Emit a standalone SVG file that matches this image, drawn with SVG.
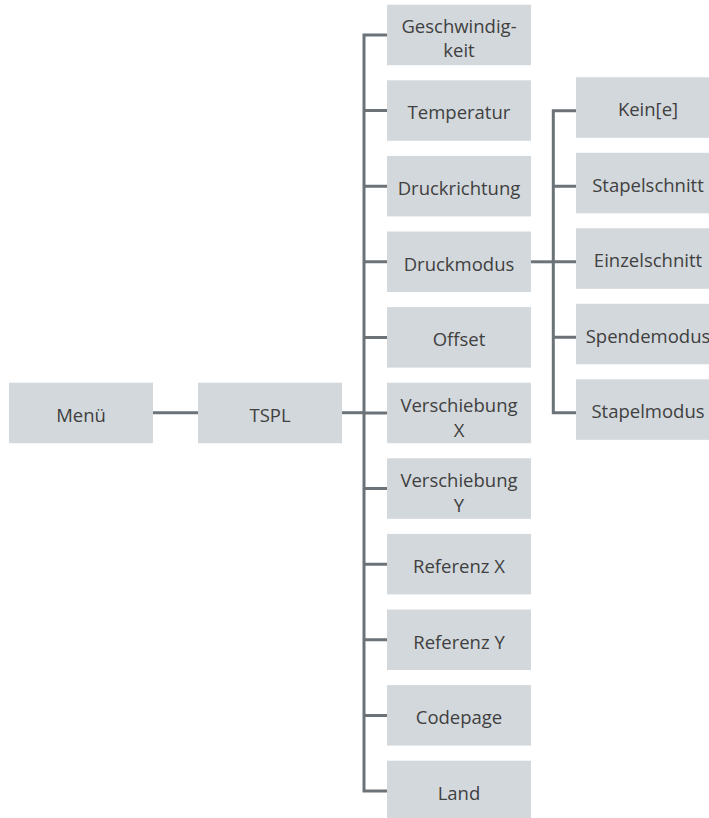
<svg xmlns="http://www.w3.org/2000/svg" width="709" height="818" viewBox="0 0 709 818">
<style>
.box{fill:#d3d8dc}
.t{font-family:"Open Sans","Noto Sans","Liberation Sans",sans-serif;font-size:18.5px;font-weight:400;fill:#404040;text-anchor:middle}
.c{fill:none;stroke:#6b7379;stroke-width:3}
</style>
<rect width="709" height="818" fill="#ffffff"/>
<g id="connectors">
<path class="c" d="M153 412.7H198"/>
<path class="c" d="M342 412.7H364"/>
<path class="c" d="M387 35H364V791H387"/>
<path class="c" d="M364 110.6H387M364 186.2H387M364 261.8H387M364 337.4H387M364 413H387M364 488.6H387M364 564.2H387M364 639.8H387M364 715.4H387"/>
<path class="c" d="M531 261.8H553.3"/>
<path class="c" d="M576 110.7H553.3V412.7H576"/>
<path class="c" d="M553.3 186.2H576M553.3 261.7H576M553.3 337.2H576"/>
</g>
<g id="menu"><rect class="box" x="9" y="382.7" width="144" height="60.5"/><text class="t" x="81" y="421.5">Menü</text></g>
<g id="tspl"><rect class="box" x="198" y="382.7" width="144" height="60.5"/><text class="t" x="270" y="421.5">TSPL</text></g>
<g id="geschwindigkeit"><rect class="box" x="387" y="4.7" width="144" height="60.5"/><text class="t" x="459" y="32.5">Geschwindig-</text><text class="t" x="459" y="56.5">keit</text></g>
<g id="temperatur"><rect class="box" x="387" y="80.3" width="144" height="60.5"/><text class="t" x="459" y="119.3">Temperatur</text></g>
<g id="druckrichtung"><rect class="box" x="387" y="155.9" width="144" height="60.5"/><text class="t" x="459" y="194.9">Druckrichtung</text></g>
<g id="druckmodus"><rect class="box" x="387" y="231.5" width="144" height="60.5"/><text class="t" x="459" y="270.5">Druckmodus</text></g>
<g id="offset"><rect class="box" x="387" y="307.1" width="144" height="60.5"/><text class="t" x="459" y="346.1">Offset</text></g>
<g id="verschiebung-x"><rect class="box" x="387" y="382.7" width="144" height="60.5"/><text class="t" x="459" y="411.7">Verschiebung</text><text class="t" x="459" y="436.5">X</text></g>
<g id="verschiebung-y"><rect class="box" x="387" y="458.3" width="144" height="60.5"/><text class="t" x="459" y="487.3">Verschiebung</text><text class="t" x="459" y="512.1">Y</text></g>
<g id="referenz-x"><rect class="box" x="387" y="533.9" width="144" height="60.5"/><text class="t" x="459" y="572.9">Referenz X</text></g>
<g id="referenz-y"><rect class="box" x="387" y="609.5" width="144" height="60.5"/><text class="t" x="459" y="648.5">Referenz Y</text></g>
<g id="codepage"><rect class="box" x="387" y="685.1" width="144" height="60.5"/><text class="t" x="459" y="724.1">Codepage</text></g>
<g id="land"><rect class="box" x="387" y="760.7" width="144" height="60.5"/><text class="t" x="459" y="799.7">Land</text></g>
<g id="keine"><rect class="box" x="576" y="77.3" width="144" height="60.5"/><text class="t" x="648" y="116.3">Kein[e]</text></g>
<g id="stapelschnitt"><rect class="box" x="576" y="152.8" width="144" height="60.5"/><text class="t" x="648" y="191.8">Stapelschnitt</text></g>
<g id="einzelschnitt"><rect class="box" x="576" y="228.3" width="144" height="60.5"/><text class="t" x="648" y="267.3">Einzelschnitt</text></g>
<g id="spendemodus"><rect class="box" x="576" y="303.8" width="144" height="60.5"/><text class="t" x="648" y="342.8">Spendemodus</text></g>
<g id="stapelmodus"><rect class="box" x="576" y="379.3" width="144" height="60.5"/><text class="t" x="648" y="418.3">Stapelmodus</text></g>
</svg>
